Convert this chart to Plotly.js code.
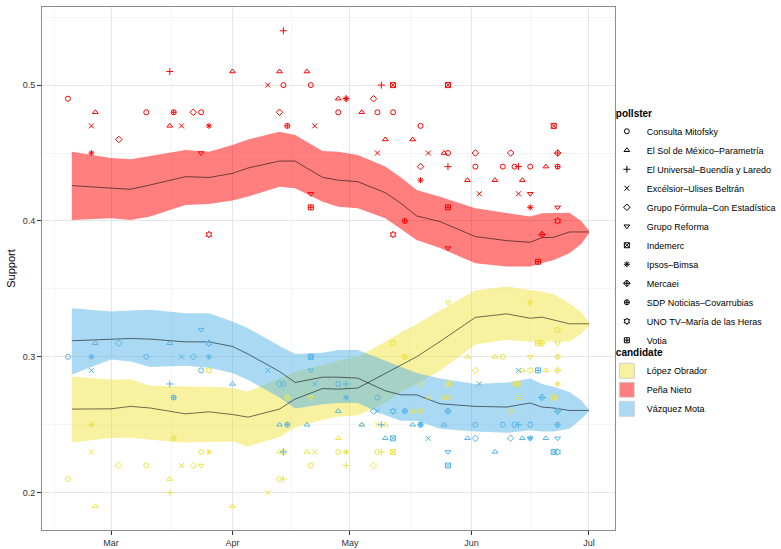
<!DOCTYPE html>
<html>
<head>
<meta charset="utf-8">
<script src="https://cdn.plot.ly/plotly-3.0.1.min.js"></script>
<style>html,body{margin:0;padding:0;background:#fff;}#chart{width:781px;height:549px;}</style>
</head>
<body>
<div id="chart"></div>
<script>
// ---------- DATA ----------
const pollsters = ['Consulta Mitofsky','El Sol de México–Parametría','El Universal–Buendía y Laredo','Excélsior–Ulises Beltrán','Grupo Fórmula–Con Estadística','Grupo Reforma','Indemerc','Ipsos–Bimsa','Mercaei','SDP Noticias–Covarrubias','UNO TV–María de las Heras','Votia'];
const candidates = ['López Obrador','Peña Nieto','Vázquez Mota'];
// pollster codes: M S U E F R I B C D T V (same order as pollsters)
const pollsterCodes = ['M','S','U','E','F','R','I','B','C','D','T','V'];

// Peña Nieto polls
const penaDates = ['2012-02-19','2012-02-25','2012-02-25','2012-02-26','2012-03-03','2012-03-10','2012-03-16','2012-03-16','2012-03-17','2012-03-19','2012-03-22','2012-03-24','2012-03-24','2012-03-26','2012-03-26','2012-04-01','2012-04-10','2012-04-13','2012-04-13','2012-04-14','2012-04-14','2012-04-15','2012-04-20','2012-04-21','2012-04-21','2012-04-21','2012-04-22','2012-04-28','2012-04-28','2012-04-30','2012-04-30','2012-05-04','2012-05-07','2012-05-08','2012-05-08','2012-05-09','2012-05-10','2012-05-12','2012-05-12','2012-05-12','2012-05-15','2012-05-17','2012-05-19','2012-05-19','2012-05-19','2012-05-21','2012-05-25','2012-05-26','2012-05-26','2012-05-26','2012-05-26','2012-05-26','2012-05-31','2012-06-02','2012-06-02','2012-06-03','2012-06-07','2012-06-09','2012-06-11','2012-06-12','2012-06-13','2012-06-13','2012-06-14','2012-06-16','2012-06-16','2012-06-16','2012-06-18','2012-06-19','2012-06-20','2012-06-22','2012-06-23','2012-06-23','2012-06-23','2012-06-23'];
const penaValues = [0.49,0.47,0.45,0.48,0.46,0.48,0.51,0.47,0.48,0.47,0.48,0.48,0.45,0.47,0.39,0.51,0.50,0.51,0.48,0.50,0.54,0.47,0.51,0.50,0.42,0.41,0.47,0.49,0.48,0.49,0.49,0.48,0.49,0.48,0.45,0.50,0.46,0.50,0.48,0.39,0.40,0.46,0.47,0.44,0.43,0.45,0.45,0.45,0.44,0.50,0.41,0.38,0.43,0.45,0.44,0.42,0.43,0.44,0.45,0.44,0.44,0.42,0.43,0.44,0.42,0.41,0.37,0.39,0.44,0.47,0.45,0.44,0.41,0.40];
const penaPollsters = ['M','E','B','S','F','M','U','S','D','E','F','M','R','B','T','S','E','S','F','M','U','D','S','M','R','V','E','S','M','U','B','S','F','M','E','U','S','I','M','T','D','S','M','F','B','E','S','M','U','I','V','R','S','F','M','E','S','M','F','M','U','E','S','M','R','B','V','C','S','I','C','D','R','T'];

// Vázquez Mota polls
const vazquezDates = ['2012-02-19','2012-02-25','2012-02-25','2012-02-26','2012-03-03','2012-03-10','2012-03-16','2012-03-16','2012-03-17','2012-03-19','2012-03-22','2012-03-24','2012-03-24','2012-03-26','2012-03-26','2012-04-01','2012-04-10','2012-04-13','2012-04-14','2012-04-13','2012-04-15','2012-04-14','2012-04-20','2012-04-21','2012-04-21','2012-04-21','2012-04-22','2012-04-28','2012-04-30','2012-04-30','2012-04-28','2012-05-04','2012-05-07','2012-05-08','2012-05-08','2012-05-09','2012-05-10','2012-05-12','2012-05-12','2012-05-15','2012-05-17','2012-05-19','2012-05-19','2012-05-21','2012-05-25','2012-05-26','2012-05-26','2012-05-26','2012-05-26','2012-05-31','2012-06-02','2012-06-02','2012-06-03','2012-06-07','2012-06-09','2012-06-11','2012-06-12','2012-06-13','2012-06-13','2012-06-14','2012-06-16','2012-06-16','2012-06-16','2012-06-18','2012-06-19','2012-06-20','2012-06-22','2012-06-23','2012-06-23','2012-06-23','2012-06-23'];
const vazquezValues = [0.30,0.29,0.30,0.31,0.31,0.30,0.31,0.28,0.27,0.30,0.30,0.29,0.32,0.30,0.31,0.28,0.29,0.28,0.28,0.25,0.25,0.23,0.25,0.30,0.30,0.29,0.28,0.28,0.28,0.27,0.26,0.25,0.26,0.26,0.27,0.25,0.24,0.24,0.26,0.26,0.25,0.25,0.25,0.24,0.25,0.26,0.26,0.23,0.22,0.24,0.25,0.24,0.28,0.23,0.25,0.24,0.25,0.25,0.29,0.24,0.25,0.24,0.24,0.29,0.27,0.24,0.23,0.26,0.25,0.24,0.23];
const vazquezPollsters = ['M','E','B','S','F','M','S','U','D','E','F','M','R','B','T','S','E','F','M','S','D','U','S','V','M','R','E','M','U','B','S','S','F','E','M','U','S','I','T','D','S','M','B','E','S','M','U','R','I','S','M','F','E','S','M','F','M','U','E','S','M','R','B','V','C','S','I','C','D','R','T'];

// López Obrador polls
const lopezDates = ['2012-02-19','2012-02-25','2012-02-25','2012-02-26','2012-03-03','2012-03-10','2012-03-16','2012-03-16','2012-03-17','2012-03-19','2012-03-22','2012-03-24','2012-03-24','2012-03-26','2012-03-26','2012-04-01','2012-04-10','2012-04-13','2012-04-14','2012-04-13','2012-04-14','2012-04-15','2012-04-20','2012-04-21','2012-04-21','2012-04-22','2012-04-28','2012-04-28','2012-04-30','2012-04-30','2012-05-04','2012-05-07','2012-05-08','2012-05-08','2012-05-09','2012-05-10','2012-05-12','2012-05-12','2012-05-15','2012-05-17','2012-05-19','2012-05-19','2012-05-21','2012-05-25','2012-05-26','2012-05-26','2012-05-26','2012-05-31','2012-06-02','2012-06-03','2012-06-07','2012-06-09','2012-06-11','2012-06-12','2012-06-13','2012-06-13','2012-06-14','2012-06-16','2012-06-16','2012-06-16','2012-06-18','2012-06-19','2012-06-20','2012-06-22','2012-06-23','2012-06-23','2012-06-23','2012-06-23','2012-06-23'];
const lopezValues = [0.21,0.23,0.25,0.19,0.22,0.22,0.21,0.20,0.24,0.22,0.22,0.23,0.22,0.23,0.29,0.19,0.20,0.23,0.23,0.21,0.21,0.27,0.23,0.22,0.27,0.23,0.24,0.23,0.23,0.22,0.25,0.22,0.23,0.25,0.23,0.25,0.23,0.31,0.30,0.26,0.26,0.28,0.27,0.27,0.27,0.28,0.34,0.30,0.29,0.28,0.30,0.30,0.26,0.28,0.28,0.27,0.29,0.29,0.30,0.34,0.31,0.31,0.29,0.27,0.32,0.31,0.30,0.29,0.28];
const lopezPollsters = ['M','E','B','S','F','M','S','U','D','E','F','M','R','B','T','S','E','S','M','F','U','D','S','M','R','E','S','M','B','U','S','F','M','E','U','S','I','T','D','S','M','F','E','S','M','V','R','S','F','E','S','M','F','M','U','E','S','M','R','B','V','C','S','I','T','R','D','C','B'];

// Smoothed trend and band
const smoothDates = ['2012-02-20','2012-03-01','2012-03-06','2012-03-11','2012-03-20','2012-03-26','2012-04-01','2012-04-05','2012-04-13','2012-04-17','2012-04-24','2012-04-28','2012-05-03','2012-05-10','2012-05-14','2012-05-18','2012-05-24','2012-06-02','2012-06-10','2012-06-16','2012-06-19','2012-06-22','2012-06-26','2012-06-29','2012-07-01'];
const penaFit = [0.426,0.4245,0.4233,0.4265,0.4326,0.432,0.435,0.439,0.4441,0.4441,0.4321,0.430,0.4289,0.4208,0.413,0.4037,0.3995,0.3885,0.3855,0.3843,0.3877,0.388,0.3919,0.3919,0.3919];
const penaHi = [0.451,0.4463,0.4454,0.4478,0.4522,0.451,0.456,0.460,0.4657,0.4632,0.4515,0.451,0.4485,0.440,0.432,0.4228,0.4179,0.4093,0.4057,0.4032,0.4057,0.4057,0.4061,0.400,0.393];
const penaLo = [0.4007,0.402,0.4007,0.4032,0.4118,0.4125,0.415,0.418,0.4252,0.424,0.4142,0.4105,0.4093,0.402,0.394,0.386,0.380,0.3689,0.3664,0.3664,0.369,0.3713,0.3762,0.383,0.391];
const vazquezFit = [0.3118,0.313,0.3135,0.313,0.311,0.311,0.3076,0.302,0.2892,0.2811,0.285,0.285,0.2843,0.275,0.272,0.272,0.2654,0.2635,0.263,0.266,0.263,0.2623,0.2605,0.2605,0.2605];
const vazquezHi = [0.3358,0.3333,0.334,0.3346,0.3321,0.332,0.326,0.321,0.308,0.302,0.303,0.305,0.305,0.297,0.292,0.288,0.284,0.280,0.281,0.284,0.280,0.278,0.274,0.268,0.261];
const vazquezLo = [0.287,0.298,0.2965,0.2925,0.2935,0.292,0.288,0.283,0.270,0.262,0.265,0.266,0.266,0.257,0.253,0.253,0.247,0.245,0.244,0.246,0.245,0.245,0.247,0.254,0.260];
const lopezFit = [0.2615,0.2617,0.2635,0.2623,0.258,0.2595,0.2575,0.2556,0.2615,0.2689,0.2766,0.2762,0.277,0.288,0.294,0.300,0.3113,0.329,0.3316,0.3284,0.3292,0.3272,0.3243,0.3243,0.3243];
const lopezHi = [0.2855,0.2831,0.2835,0.2787,0.2782,0.278,0.277,0.2745,0.284,0.289,0.294,0.297,0.300,0.311,0.318,0.324,0.334,0.349,0.3517,0.349,0.348,0.346,0.3395,0.333,0.325];
const lopezLo = [0.237,0.2402,0.2405,0.239,0.237,0.2375,0.2377,0.234,0.241,0.248,0.2537,0.256,0.257,0.266,0.274,0.280,0.290,0.309,0.3125,0.311,0.311,0.311,0.3113,0.317,0.323];

const yTicks = [0.2,0.3,0.4,0.5];
const yMinor = [0.15,0.25,0.35,0.45,0.55];
const xMinor = ['2012-02-15 12:00','2012-03-16 12:00','2012-04-16','2012-05-16 12:00','2012-06-16'];

// ---------- STYLE ----------
const symbolFor = {M:'circle-open',S:'triangle-up-open',U:'cross-thin-open',E:'x-thin-open',F:'diamond-open',R:'triangle-down-open',I:'square-x-open',B:'asterisk-open',C:'diamond-cross-open',D:'circle-cross-open',T:'hexagram-open',V:'square-cross-open'};
const pointColor = {'López Obrador':'#F0E442','Peña Nieto':'#FF0000','Vázquez Mota':'#56B4E9'};
const bandColor = {'López Obrador':'rgba(240,228,66,0.5)','Peña Nieto':'rgba(255,0,0,0.5)','Vázquez Mota':'rgba(86,180,233,0.5)'};
const FONT = 'Liberation Sans, Arial, Helvetica, sans-serif';

const series = [
  {name:'López Obrador', d:lopezDates, v:lopezValues, p:lopezPollsters, fit:lopezFit, lo:lopezLo, hi:lopezHi},
  {name:'Peña Nieto', d:penaDates, v:penaValues, p:penaPollsters, fit:penaFit, lo:penaLo, hi:penaHi},
  {name:'Vázquez Mota', d:vazquezDates, v:vazquezValues, p:vazquezPollsters, fit:vazquezFit, lo:vazquezLo, hi:vazquezHi}
];

const traces = [];
series.forEach(s => {
  traces.push({
    x: smoothDates.concat(smoothDates.slice().reverse()),
    y: s.hi.concat(s.lo.slice().reverse()),
    type:'scatter', mode:'lines', fill:'toself', fillcolor: bandColor[s.name],
    line:{width:0, color:'rgba(0,0,0,0)'}, showlegend:false, hoverinfo:'skip'
  });
});
series.forEach(s => {
  traces.push({
    x: smoothDates, y: s.fit, type:'scatter', mode:'lines',
    line:{color:'rgba(0,0,0,0.62)', width:0.9}, showlegend:false, hoverinfo:'skip'
  });
});
series.forEach(s => {
  traces.push({
    x: s.d, y: s.v, type:'scatter', mode:'markers', showlegend:false,
    marker:{symbol: s.p.map(c => symbolFor[c]), size:5, color: pointColor[s.name],
            line:{color: pointColor[s.name], width:1}}
  });
});
// legend entries
pollsterCodes.forEach((c,i) => {
  traces.push({
    x:[null], y:[null], type:'scatter', mode:'markers', name: pollsters[i], legend:'legend',
    marker:{symbol: symbolFor[c], size:5, color:'#000', line:{color:'#000', width:1}}
  });
});
candidates.forEach(c => {
  traces.push({
    x:[null], y:[null], type:'scatter', mode:'markers', name: c, legend:'legend2',
    marker:{symbol:'square', size:15, color: bandColor[c], line:{color:'#d0d0d0', width:1}}
  });
});

const layout = {
  width:781, height:549,
  margin:{l:42, r:166, t:7, b:19, autoexpand:false},
  paper_bgcolor:'#fff', plot_bgcolor:'#fff',
  font:{family:FONT, size:9, color:'#000'},
  xaxis:{
    type:'date', range:['2012-02-12 09:20','2012-07-07 15:20'],
    tick0:'2012-03-01', dtick:'M1', tickformat:'%b',
    ticks:'outside', ticklen:4, tickcolor:'#333', tickwidth:1,
    tickfont:{size:9, color:'#333'},
    showgrid:true, gridcolor:'#e5e5e5', gridwidth:1,
    minor:{tickmode:'array', tickvals:xMinor, showgrid:true, gridcolor:'#f5f5f5', gridwidth:1, ticks:''},
    showline:true, mirror:true, linecolor:'#8c8c8c', linewidth:1, zeroline:false
  },
  yaxis:{
    range:[0.1725,0.5575], tickmode:'array', tickvals:yTicks, ticktext:yTicks.map(v=>v.toFixed(1)),
    ticks:'outside', ticklen:4, tickcolor:'#333', tickwidth:1,
    tickfont:{size:9, color:'#333'},
    showgrid:true, gridcolor:'#e5e5e5', gridwidth:1,
    minor:{tickmode:'array', tickvals:yMinor, showgrid:true, gridcolor:'#f5f5f5', gridwidth:1, ticks:''},
    showline:true, mirror:true, linecolor:'#8c8c8c', linewidth:1, zeroline:false,
    title:{text:'Support', font:{size:11, color:'#000'}, standoff:4}
  },
  legend:{
    x:0.998, xanchor:'left', y:0.815, yanchor:'top',
    title:{text:'<b>pollster</b>', font:{size:10}},
    font:{size:9, color:'#000'}, bgcolor:'rgba(0,0,0,0)', tracegroupgap:0, indentation:-7
  },
  legend2:{
    x:0.998, xanchor:'left', y:0.357, yanchor:'top',
    title:{text:'<b>candidate</b>', font:{size:10}},
    font:{size:9, color:'#000'}, bgcolor:'rgba(0,0,0,0)', tracegroupgap:0, indentation:-7
  },
  showlegend:true
};

Plotly.newPlot('chart', traces, layout, {displayModeBar:false, staticPlot:true});
</script>
</body>
</html>
